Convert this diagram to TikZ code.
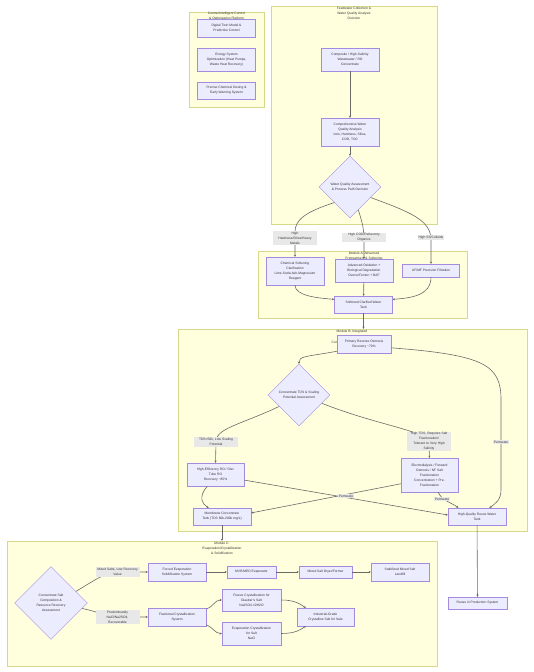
\documentclass[tikz,border=0pt]{standalone}
\usepackage{fontspec}
\setmainfont{Liberation Sans}
\usetikzlibrary{shapes.geometric,arrows.meta}
\definecolor{nodefill}{HTML}{ECECFF}
\definecolor{nodestroke}{HTML}{A58BE0}
\definecolor{clfill}{HTML}{FFFFDE}
\definecolor{clstroke}{HTML}{D8D88A}
\definecolor{lblfill}{HTML}{E8E8E8}
\definecolor{edgec}{HTML}{6A6A6A}
\definecolor{txt}{HTML}{333333}
\begin{document}
\begin{tikzpicture}[x=1pt,y=-1pt,
 every node/.style={font=\fontsize{3.3}{5}\selectfont, text=txt},
 box/.style={draw=nodestroke, fill=nodefill, line width=0.35pt, align=center, inner sep=0pt},
 dia/.style={diamond, aspect=1, draw=nodestroke, fill=nodefill, line width=0.35pt, align=center, inner sep=0pt},
 cluster/.style={draw=clstroke, fill=clfill, line width=0.4pt, inner sep=0pt},
 ctitle/.style={align=center, inner sep=0pt, anchor=north},
 edge/.style={draw=edgec, line width=0.6pt, -{Stealth[length=2.2pt,width=2.2pt]}},
 lbl/.style={fill=lblfill, align=center, inner xsep=1pt, inner ysep=0.8pt},
 lblw/.style={lbl, text width=42pt}]
\fill[white] (0,0) rectangle (533,672);
\useasboundingbox (0,0) rectangle (533,672);

% clusters
\node[cluster, minimum width=75, minimum height=95] (clI) at (226.5,59.5) {};
\node[ctitle] (tI) at (226.5,12.3) {Central Intelligent Control\\\& Optimization Platform};
\node[cluster, minimum width=166, minimum height=218] (clF) at (354,115) {};
\node[ctitle] (tF) at (354,6.6) {Feedwater Collection \&\\Water Quality Analysis\\Decision};
\node[cluster, minimum width=209, minimum height=67] (clA) at (362.5,284.5) {};
\node[ctitle] (tA) at (364,252.2) {Module A: Advanced\\Pretreatment \& Softening};
\node[cluster, minimum width=349, minimum height=202] (clB) at (352.5,430) {};
\node[ctitle] (tB) at (352,330.3) {Module B: Integrated\\[5.3pt]Concentration \& Separation};
\node[cluster, minimum width=430, minimum height=125] (clC) at (222,603.5) {};
\node[ctitle] (tC) at (222,542.2) {Module C:\\Evaporation/Crystallization\\\& Solidification};

% central platform
\node[box, minimum width=58, minimum height=18] (dt) at (226.5,28) {Digital Twin Model \&\\Predictive Control};
\node[box, minimum width=58, minimum height=23] (es) at (226.5,59.5) {Energy System\\Optimization (Heat Pumps,\\Waste Heat Recovery)};
\node[box, minimum width=58, minimum height=17] (cd) at (226.5,90.5) {Precise Chemical Dosing \&\\Early Warning System};

% feedwater
\node[box, minimum width=58, minimum height=23] (comp) at (350,59.5) {Composite / High-Salinity\\Wastewater / RO\\Concentrate};
\node[box, minimum width=58, minimum height=28] (cwqa) at (350,132) {Comprehensive Water\\Quality Analysis\\Ions, Hardness, Silica,\\COD, TOC};
\node[dia, minimum width=62, minimum height=62] (wq) at (350,187) {Water Quality Assessment\\\& Process Path Decision};

% module A
\node[box, minimum width=58, minimum height=28] (cs) at (295,271) {Chemical Softening\\Clarification\\Lime-Soda Ash-Magnesium\\Reagent};
\node[box, minimum width=58, minimum height=23] (ao) at (364,270.5) {Advanced Oxidation +\\Biological Degradation\\Ozone/Fenton + BAF};
\node[box, minimum width=57, minimum height=13] (uf) at (431,270.5) {UF/MF Precision Filtration};
\node[box, minimum width=58, minimum height=17] (st) at (363.5,304.5) {Softened Clarified Water\\Tank};

% module B
\node[box, minimum width=54, minimum height=18] (pro) at (364,344) {Primary Reverse Osmosis\\Recovery \textasciitilde70\%};
\node[dia, minimum width=62, minimum height=62] (d2) at (299,395) {Concentrate TDS \& Scaling\\Potential Assessment};
\node[box, minimum width=57, minimum height=23] (he) at (215.5,474.5) {High-Efficiency RO / Disc\\Tube RO\\Recovery \textasciitilde85\%};
\node[box, minimum width=57, minimum height=34] (ed) at (429.5,475) {Electrodialysis / Forward\\Osmosis / NF Salt\\Fractionation\\Concentration + Pre-\\Fractionation};
\node[box, minimum width=58, minimum height=17] (mct) at (222,516.5) {Membrane Concentrate\\Tank (TDS 80k-200k mg/L)};
\node[box, minimum width=58, minimum height=17] (hq) at (477,516.5) {High-Quality Reuse Water\\Tank};
\node[box, minimum width=59, minimum height=12] (reuse) at (477.5,603) {Reuse in Production System};

% module C
\node[dia, minimum width=73, minimum height=73] (d3) at (51,603) {Concentrate Salt\\Composition \&\\Resource Recovery\\Assessment};
\node[box, minimum width=58, minimum height=18] (fe) at (177,572) {Forced Evaporation\\Solidification System};
\node[box, minimum width=58, minimum height=18] (fc) at (177,617) {Fractional Crystallization\\System};
\node[box, minimum width=49, minimum height=12] (mvr) at (251.5,572) {MVR/MED Evaporator};
\node[box, minimum width=53, minimum height=12] (msd) at (325.5,572) {Mixed Salt Dryer/Former};
\node[box, minimum width=58, minimum height=18] (sml) at (400,572) {Stabilized Mixed Salt\\Landfill};
\node[box, minimum width=59, minimum height=22] (fz) at (251.5,600) {Freeze Crystallization for\\Glauber's Salt\\Na2SO4·10H2O};
\node[box, minimum width=59, minimum height=23] (ec) at (251.5,633.5) {Evaporation Crystallization\\for Salt\\NaCl};
\node[box, minimum width=57, minimum height=18] (ig) at (325.5,617) {Industrial-Grade\\Crystalline Salt for Sale};

% edges: feedwater
\draw[edge] (comp) -- (cwqa);
\draw[edge] (cwqa) -- (wq);
\draw[edge] (wq.south west) .. controls (305,212) and (295,220) .. (295,232) -- (cs.north);
\draw[edge] (wq.-70) .. controls (362,222) and (364,228) .. (364,240) -- (ao.north);
\draw[edge] (wq.-27) .. controls (410,212) and (431,220) .. (431,240) -- (uf.north);
% module A
\draw[edge] (cs.south) .. controls (295,296) and (318,298) .. (st.170);
\draw[edge] (ao) -- (st);
\draw[edge] (uf.south) .. controls (431,296) and (410,298) .. (st.10);
\draw[edge] (st.south) -- (st.south |- clB.north);
% module B
\draw[edge] (pro.195) .. controls (305,357) and (299,356) .. (d2.north);
\draw[edge] (pro.-8) .. controls (485,355) and (501,365) .. (501,400) -- (501,490) .. controls (501,500) and (495,504) .. (hq.35);
\draw[edge] (d2.210) .. controls (240,425) and (216,428) .. (216,442) -- (he.north);
\draw[edge] (d2.-20) .. controls (385,428) and (429,430) .. (429,445) -- (ed.north);
\draw[edge] (he.-125) .. controls (198,497) and (202,504) .. (mct.147);
\draw[edge] (he.-11) -- (hq.177);
\draw[edge] (ed.197) -- (mct.7);
\draw[edge] (ed.-63) .. controls (441,500) and (452,503) .. (hq.155);
\draw[edge] (mct.south) -- (mct.south |- clC.north);
\draw[edge] (hq) -- (reuse);
% module C
\draw[edge] (d3.25) .. controls (92,582) and (105,572) .. (118,572) -- (fe.west);
\draw[edge] (d3.-10) .. controls (100,612) and (105,617) .. (118,617) -- (fc.west);
\draw[edge] (fe) -- (mvr);
\draw[edge] (mvr) -- (msd);
\draw[edge] (msd) -- (sml);
\draw[edge] (fc.15) .. controls (214,606) and (215,600) .. (fz.west);
\draw[edge] (fc.-15) .. controls (214,628) and (215,633.5) .. (ec.west);
\draw[edge] (fz.east) .. controls (295,600) and (300,604) .. (ig.155);
\draw[edge] (ec.east) .. controls (295,633.5) and (300,630) .. (ig.205);

% edge labels
\node[lblw] (l1) at (295,238) {High\\Hardness/Silica/Heavy\\Metals};
\node[lblw] (l2) at (364,237.5) {High COD/Refractory\\Organics};
\node[lbl] (l3) at (431,237.5) {High SS/Colloids};
\node[lblw] (lb1) at (216,442) {TDS<50k, Low Scaling\\Potential};
\node[lblw] (lb2) at (429,441.5) {High TDS, Requires Salt\\Fractionation/\\Tolerant to Very High\\Salinity};
\node[lbl] (lb3) at (501,442) {Permeate};
\node[lbl] (lb4) at (346,496) {Permeate};
\node[lbl] (lb5) at (442,499) {Permeate};
\node[lblw] (lc1) at (117.5,572) {Mixed Salts, Low Recovery\\Value};
\node[lblw] (lc2) at (117.5,617) {Predominantly\\NaCl/Na2SO4,\\Recoverable};
\end{tikzpicture}
\end{document}
